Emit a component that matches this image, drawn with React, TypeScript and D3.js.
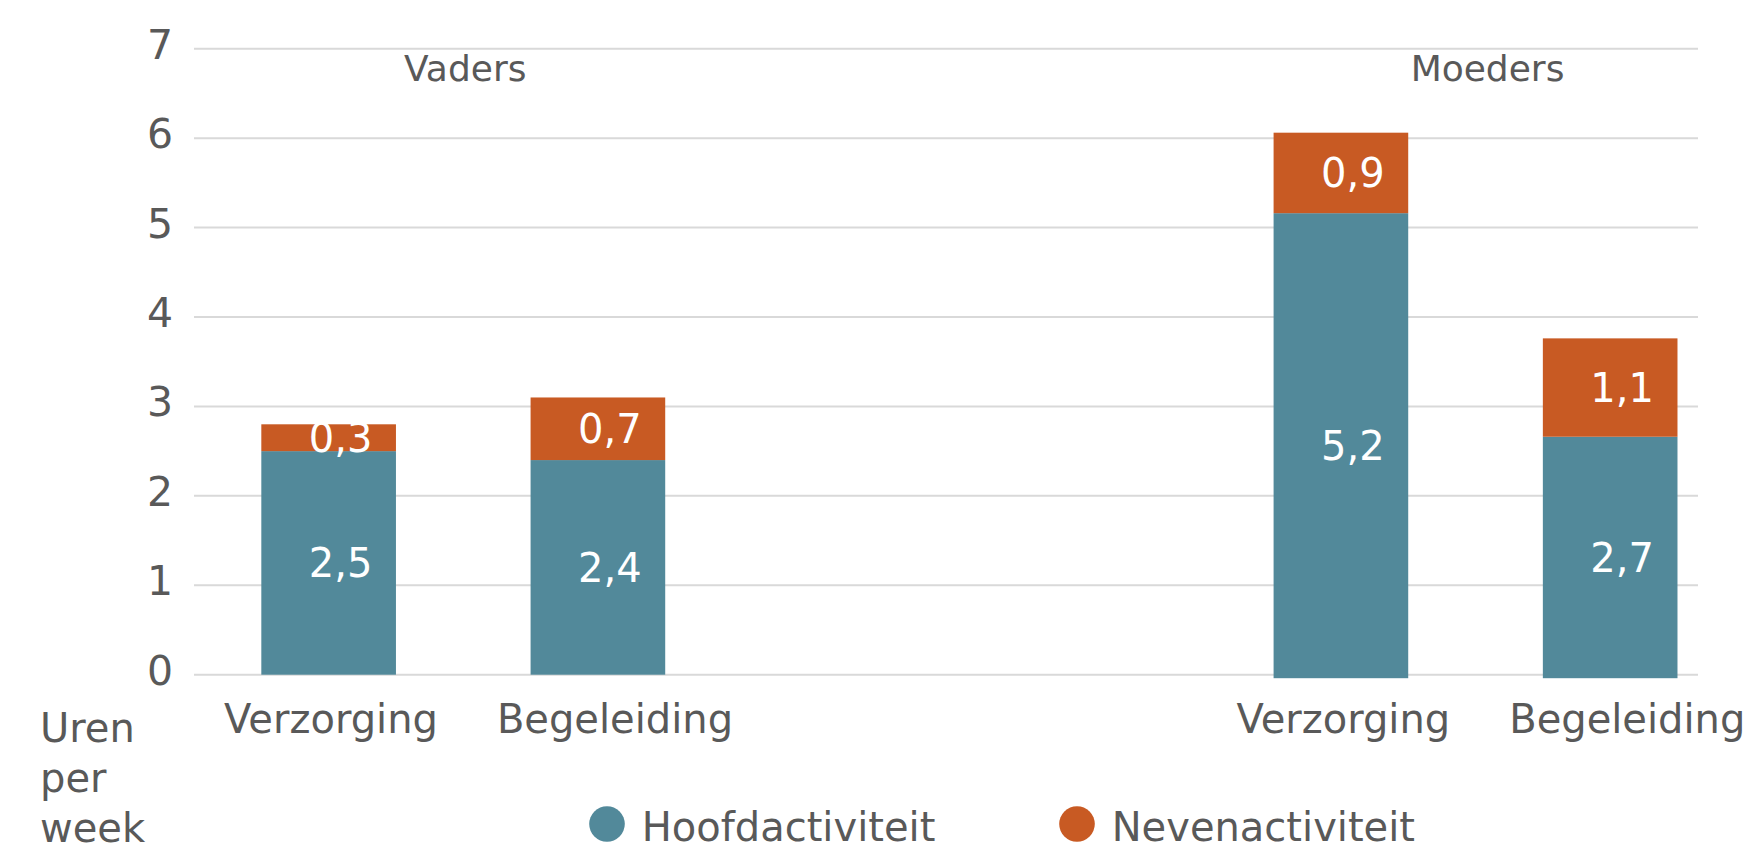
import React, { useEffect } from 'react';
import * as d3 from 'd3';

const groups = ['Vaders', 'Moeders'];
const activities = ['Verzorging', 'Begeleiding'];
const hoofdactiviteit = [2.5, 2.4, 5.2, 2.7];
const nevenactiviteit = [0.3, 0.7, 0.9, 1.1];
const yTicks = [0, 1, 2, 3, 4, 5, 6, 7];
const seriesNames = ['Hoofdactiviteit', 'Nevenactiviteit'];
const seriesColors = ['#52899A', '#C85A23'];
const axisTitle = ['Uren', 'per', 'week'];

const W = 1747;
const H = 850;
const FONT = "'DejaVu Sans', Verdana, sans-serif";
const TEXT = '#595959';
const fmt = (v: number) => v.toFixed(1).replace('.', ',');

export default function App() {
  useEffect(() => {
    document.body.style.margin = '0';
  }, []);

  const plotLeft = 194;
  const plotRight = 1698;
  const y = d3.scaleLinear().domain([0, 7]).range([674.7, 48.7]);
  // secondary axis used by the Moeders bars (sits slightly lower in the original)
  const y2 = d3.scaleLinear().domain([0, 7]).range([678.2, 52.2]);

  const outer = d3.scaleBand<string>().domain(groups).range([194, 1744.8]).paddingInner(0.468).paddingOuter(0);
  const inner = d3.scaleBand<string>().domain(activities).range([0, outer.bandwidth()]).paddingInner(0.5).paddingOuter(0.25);
  const labelPos = d3.scalePoint<string>().domain(activities).range([137, 421]);

  const rows: { g: string; a: string; h: number; n: number; i: number }[] = [];
  groups.forEach((g, gi) => activities.forEach((a, ai) => {
    const i = gi * activities.length + ai;
    rows.push({ g, a, h: hoofdactiviteit[i], n: nevenactiviteit[i], i });
  }));

  const stack = d3.stack<any>().keys(['h', 'n'])(rows as any);

  return (
    <svg width={W} height={H} style={{ display: 'block', background: '#fff' }} fontFamily={FONT}>
      {yTicks.map((t) => (
        <g key={t}>
          <line x1={plotLeft} x2={plotRight} y1={y(t)} y2={y(t)} stroke="#D9D9D9" strokeWidth={2} />
          <text x={173} y={y(t) + 10} textAnchor="end" fontSize={41} fill={TEXT}>{t}</text>
        </g>
      ))}
      {stack.map((layer, si) => (
        <g key={si} fill={seriesColors[si]}>
          {layer.map((d: any, k: number) => {
            const r = rows[k];
            const ys = r.g === 'Moeders' ? y2 : y;
            const x0 = (outer(r.g) as number) + (inner(r.a) as number);
            return (
              <rect key={k} x={x0} width={inner.bandwidth()} y={ys(d[1])} height={ys(d[0]) - ys(d[1])} />
            );
          })}
        </g>
      ))}
      {stack.map((layer, si) => (
        <g key={'l' + si}>
          {layer.map((d: any, k: number) => {
            const r = rows[k];
            const ys = r.g === 'Moeders' ? y2 : y;
            const cx = (outer(r.g) as number) + (inner(r.a) as number) + inner.bandwidth() / 2 + 12;
            const cy = (ys(d[0]) + ys(d[1])) / 2;
            return (
              <text key={k} x={cx} y={cy + 14.5} textAnchor="middle" fontSize={40} fill="#fff">
                {fmt(d[1] - d[0])}
              </text>
            );
          })}
        </g>
      ))}
      {groups.map((g) => (
        <g key={g}>
          <text x={(outer(g) as number) + outer.bandwidth() / 2 + (g === 'Moeders' ? 12 : 2)} y={81} textAnchor="middle" fontSize={36} fill={TEXT}>{g}</text>
          {activities.map((a) => (
            <text key={a} x={(outer(g) as number) + (labelPos(a) as number)} y={733} textAnchor="middle" fontSize={40} fill={TEXT}>{a}</text>
          ))}
        </g>
      ))}
      {axisTitle.map((t, i) => (
        <text key={t} x={40} y={741.7 + i * 50} fontSize={40} fill={TEXT}>{t}</text>
      ))}
      {seriesNames.map((s, i) => {
        const cx = [607, 1077][i];
        return (
          <g key={s}>
            <circle cx={cx} cy={824} r={17.8} fill={seriesColors[i]} />
            <text x={cx + 34.7} y={841} fontSize={40} fill={TEXT}>{s}</text>
          </g>
        );
      })}
    </svg>
  );
}
